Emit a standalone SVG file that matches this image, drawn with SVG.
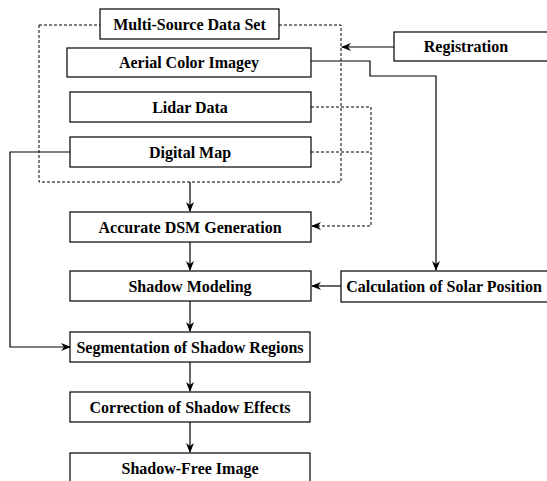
<svg xmlns="http://www.w3.org/2000/svg" width="547" height="481" viewBox="0 0 547 481">
<style>
.box{fill:#fff;stroke:#000;stroke-width:1.2}
.t{font-family:"Liberation Serif",serif;font-size:16px;font-weight:bold;text-anchor:middle;fill:#000}
.ln{fill:none;stroke:#000;stroke-width:1.2}
.ds{fill:none;stroke:#000;stroke-width:1;stroke-dasharray:3,2}
</style>
<defs>
<marker id="ah" markerWidth="10" markerHeight="10" refX="9" refY="5" orient="auto" markerUnits="userSpaceOnUse">
<path d="M0,1 L10,5 L0,9 L3,5 Z" fill="#000"/>
</marker>
</defs>
<g id="connectors">
<rect class="ds" x="39" y="25" width="302" height="157"/>
<path class="ln" d="M394,47 L342,47" marker-end="url(#ah)"/>
<path class="ln" d="M311,61 L370,61 L370,76 L436,76 L436,270" marker-end="url(#ah)"/>
<path class="ds" d="M311,107 L371,107 L371,226 L320,226"/>
<path class="ln" d="M320,226 L312,226" marker-end="url(#ah)"/>
<path class="ds" d="M311,152 L371,152"/>
<path class="ln" d="M70,152 L10,152 L10,347 L70,347" marker-end="url(#ah)"/>
<path class="ln" d="M190,182 L190,211" marker-end="url(#ah)"/>
<path class="ln" d="M190,242 L190,270" marker-end="url(#ah)"/>
<path class="ln" d="M341,286 L312,286" marker-end="url(#ah)"/>
<path class="ln" d="M190,301 L190,331" marker-end="url(#ah)"/>
<path class="ln" d="M190,362 L190,391" marker-end="url(#ah)"/>
<path class="ln" d="M190,422 L190,452" marker-end="url(#ah)"/>
</g>
<g id="multisource"><rect class="box" x="100" y="9" width="179" height="30"/><text class="t" x="189.5" y="29.5">Multi-Source Data Set</text></g>
<g id="aerial"><rect class="box" x="67" y="48" width="244" height="29"/><text class="t" x="189" y="68">Aerial Color Imagey</text></g>
<g id="lidar"><rect class="box" x="70" y="92" width="241" height="30"/><text class="t" x="190" y="112.5">Lidar Data</text></g>
<g id="digitalmap"><rect class="box" x="70" y="137" width="241" height="30"/><text class="t" x="190" y="157.5">Digital Map</text></g>
<g id="registration"><rect class="box" x="394" y="32" width="160" height="29"/><text class="t" x="466" y="52">Registration</text></g>
<g id="dsm"><rect class="box" x="70" y="212" width="241" height="30"/><text class="t" x="190" y="232.5">Accurate DSM Generation</text></g>
<g id="shadowmodeling"><rect class="box" x="70" y="271" width="241" height="30"/><text class="t" x="190" y="291.5">Shadow Modeling</text></g>
<g id="solar"><rect class="box" x="341" y="271" width="210" height="31"/><text class="t" x="444" y="292">Calculation of  Solar Position</text></g>
<g id="segmentation"><rect class="box" x="70" y="332" width="240" height="30"/><text class="t" x="190" y="352.5">Segmentation of  Shadow Regions</text></g>
<g id="correction"><rect class="box" x="70" y="392" width="240" height="30"/><text class="t" x="190" y="412.5">Correction of  Shadow Effects</text></g>
<g id="shadowfree"><rect class="box" x="70" y="453" width="240" height="40"/><text class="t" x="190" y="473.5">Shadow-Free Image</text></g>
</svg>
